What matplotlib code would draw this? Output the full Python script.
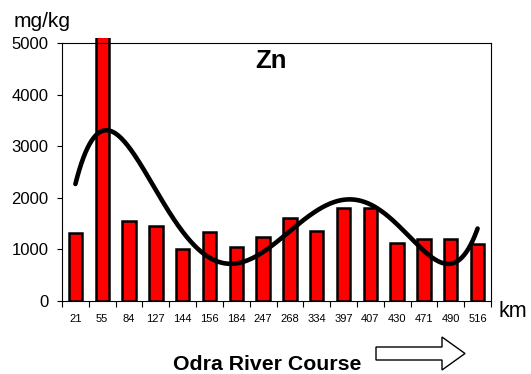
import numpy as np
import matplotlib.pyplot as plt
from matplotlib.patches import Polygon
from matplotlib.transforms import Bbox, TransformedBbox

plt.rcParams['font.family'] = ['Liberation Sans', 'DejaVu Sans']

# Sampling points along the river (km) and zinc content (mg/kg)
km = ['21', '55', '84', '127', '144', '156', '184', '247',
      '268', '334', '397', '407', '430', '471', '490', '516']
zn = [1320, 5900, 1540, 1460, 1010, 1330, 1050, 1230,
      1600, 1360, 1810, 1800, 1130, 1190, 1200, 1110]
y_ticks = [0, 1000, 2000, 3000, 4000, 5000]

W, H = 531, 374
fig = plt.figure(figsize=(W / 100, H / 100), dpi=100)
ax = fig.add_axes([62 / W, 1 - 300.7 / H, (491 - 62) / W, (300.7 - 43.3) / H])

x = np.arange(1, len(km) + 1)
bars = ax.bar(x, zn, width=0.5, color='#ff0000', edgecolor='black',
              linewidth=1.8, zorder=2)
# let the tall bar poke slightly over the frame
clip = TransformedBbox(Bbox([[0, 0], [1, 1.021]]), ax.transAxes)
for b in bars:
    b.set_clip_box(clip)

# polynomial trend line (order 5)
coef = np.polyfit(x, zn, 5)
xs = np.linspace(1, len(km), 400)
ax.plot(xs, np.polyval(coef, xs), color='black', linewidth=3.3,
        solid_capstyle='round', zorder=3)

ax.set_xlim(0.5, len(km) + 0.5)
ax.set_ylim(0, 5000)
ax.set_yticks(y_ticks)
ax.tick_params(axis='y', direction='out', length=3.4, width=0.8,
               labelsize=12, pad=6.2)

# tick marks between categories, labels under the bars
ax.set_xticks(np.arange(0.5, len(km) + 1, 1))
ax.set_xticklabels([])
ax.set_xticks(x, minor=True)
ax.set_xticklabels(km, minor=True)
ax.tick_params(axis='x', which='major', direction='out', length=4.3, width=0.8)
ax.tick_params(axis='x', which='minor', length=0, labelsize=8, pad=9.6)

for s in ax.spines.values():
    s.set_linewidth(0.8)
    s.set_color('black')

ax.text(0.488, 0.933, 'Zn', transform=ax.transAxes, ha='center',
        va='center', fontsize=18.5, fontweight='bold')

fig.text(14 / W, 1 - 26.7 / H, 'mg/kg', fontsize=15, ha='left',
         va='baseline')
fig.text(498 / W, 1 - 316.7 / H, 'km', fontsize=15.5, ha='left',
         va='baseline')
fig.text(267.5 / W, 1 - 370 / H, 'Odra River Course', fontsize=15.3,
         fontweight='bold', ha='center', va='baseline')

# outline arrow showing flow direction
arrow_px = [(376, 347), (442, 347), (442, 337), (465, 353.5),
            (442, 370), (442, 360), (376, 360)]
arrow = Polygon([(px / W, 1 - py / H) for px, py in arrow_px], closed=True,
                facecolor='white', edgecolor='black', linewidth=1.0,
                transform=fig.transFigure)
fig.patches.append(arrow)

fig.savefig('out.png', dpi=100)
